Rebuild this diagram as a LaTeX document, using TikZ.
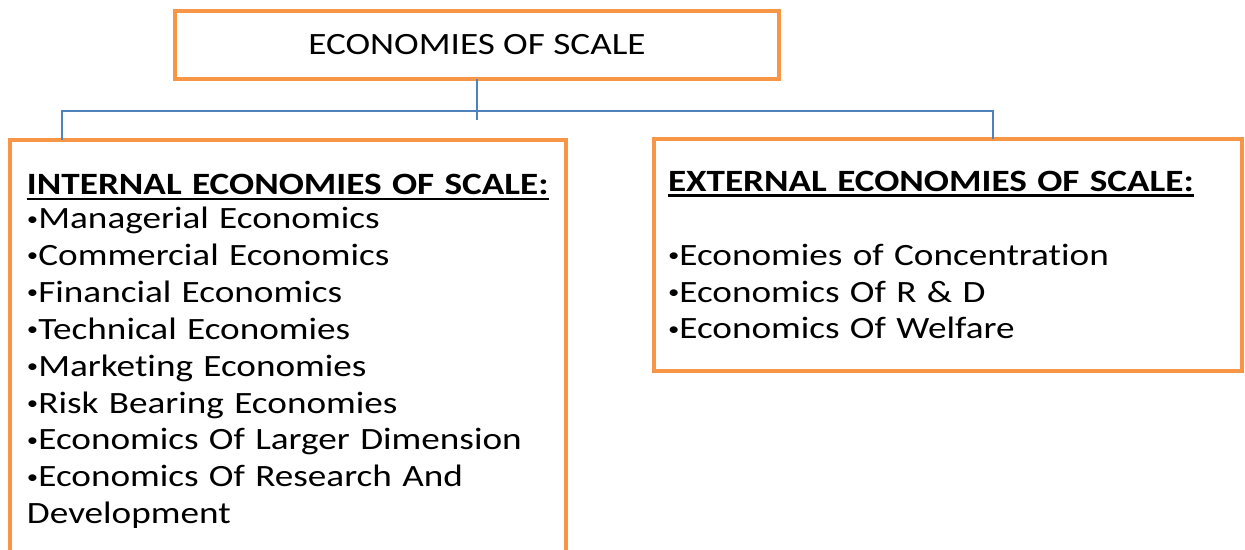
\documentclass[tikz,border=0pt]{standalone}
\usepackage{fontspec}
\setmainfont[FakeStretch=1.2, Ligatures=NoCommon]{Carlito}
\usetikzlibrary{positioning}
\definecolor{boxorange}{HTML}{F79646}
\definecolor{linkblue}{HTML}{4F81BD}
% thick underline for the list headings
\newcommand{\headul}[1]{\leavevmode\vtop{\hbox{#1}\kern3pt\hrule height 2.4pt}}
% small raised bullet in front of each list entry
\newcommand{\dotmark}{\raisebox{3.5pt}{\fontsize{19}{19}\selectfont•}}

\begin{document}
\begin{tikzpicture}[
    x=1pt, y=-1pt,
    box/.style={draw=boxorange, line width=3.5pt, fill=white, inner sep=0pt,
        outer sep=0pt, font=\fontsize{31}{36.9}\selectfont},
    listbox/.style={box, anchor=north west, align=left},
    link/.style={draw=linkblue, line width=1.5pt}
]
\useasboundingbox (0,0) rectangle (1245,549);

\node[box, minimum width=604, minimum height=68] (scale) at (477,45) {ECONOMIES OF SCALE};
\node[listbox, minimum width=556, minimum height=423, text width=522] (internal) at (10,140)
    {\headul{\textbf{INTERNAL ECONOMIES OF SCALE:}}\\[-2.9pt]
     \dotmark Managerial Economics\\
     \dotmark Commercial Economics\\
     \dotmark Financial Economics\\
     \dotmark Technical Economies\\
     \dotmark Marketing Economies\\
     \dotmark Risk Bearing Economies\\
     \dotmark Economics Of Larger Dimension\\
     \dotmark Economics Of Research And\\
     Development};
\node[listbox, minimum width=588, minimum height=232, text width=560] (external) at (654,139)
    {\headul{\textbf{EXTERNAL ECONOMIES OF SCALE:}}\\[37pt]
     \dotmark Economies of Concentration\\
     \dotmark Economics Of R \& D\\
     \dotmark Economics Of Welfare};

% tree connectors
\coordinate (bus) at (477,111);
\draw[link] (scale.south) -- ++(0,41);
\draw[link] ([xshift=52pt]internal.north west) |- (bus) -| ([xshift=339pt]external.north west);
\end{tikzpicture}
\end{document}
